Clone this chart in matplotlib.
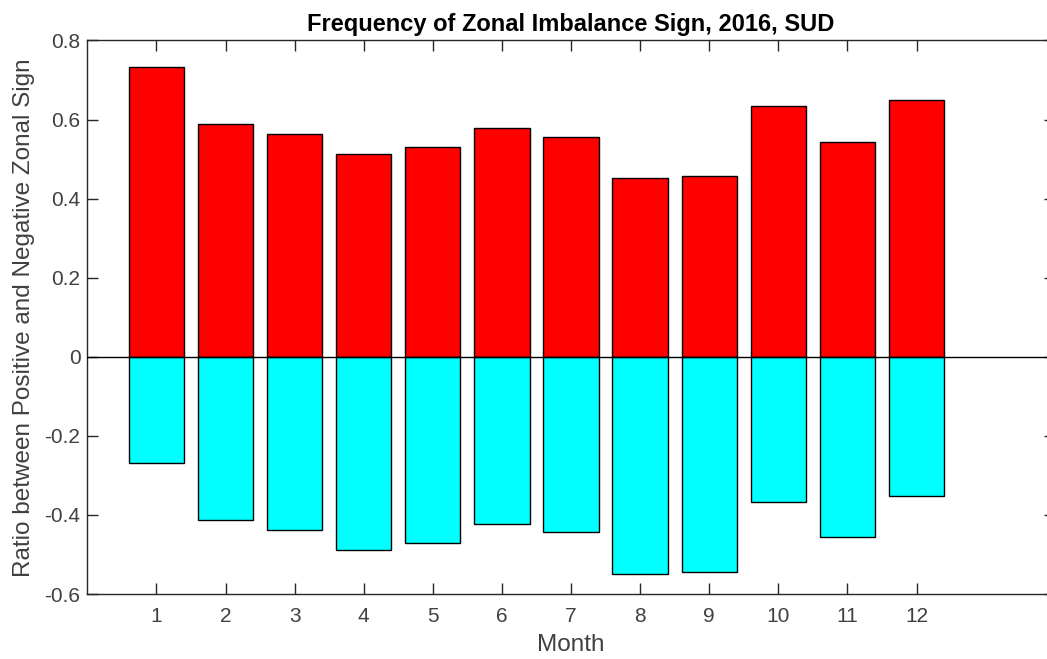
import matplotlib.pyplot as plt
from matplotlib import font_manager
import numpy as np

plt.rcParams['font.family'] = ['Liberation Sans', 'DejaVu Sans']

months = np.arange(1, 13)
positive = [0.732, 0.588, 0.563, 0.512, 0.530, 0.578, 0.557, 0.451, 0.456, 0.633, 0.543, 0.649]
negative = [-0.268, -0.412, -0.437, -0.488, -0.470, -0.422, -0.443, -0.549, -0.544, -0.367, -0.457, -0.351]
yticks = [-0.6, -0.4, -0.2, 0, 0.2, 0.4, 0.6, 0.8]
ytick_labels = ['-0.6', '-0.4', '-0.2', '0', '0.2', '0.4', '0.6', '0.8']

axis_color = '#262626'
text_color = '#404040'

# pick the regular-width bold face (matplotlib tends to grab the Narrow one)
bold_file = None
for f in font_manager.fontManager.ttflist:
    if f.name == 'Liberation Sans' and f.weight in (700, 'bold') and f.style == 'normal' \
            and 'Narrow' not in f.fname:
        bold_file = f.fname
        break
if bold_file:
    title_font = font_manager.FontProperties(fname=bold_file, size=17)
else:
    title_font = font_manager.FontProperties(family='DejaVu Sans', weight='bold', size=16)

fig = plt.figure(figsize=(10.47, 6.59), dpi=100)
ax = fig.add_axes([0.0834, 0.0986, 0.924, 0.840])

ax.bar(months, positive, width=0.8, color='#ff0000', edgecolor='black', linewidth=1.0, zorder=2)
ax.bar(months, negative, width=0.8, color='#00ffff', edgecolor='black', linewidth=1.0, zorder=2)
ax.axhline(0, color='black', linewidth=1.0, zorder=3)

ax.set_xlim(0, 14)
ax.set_ylim(-0.6, 0.8)
ax.set_xticks(months)
ax.set_xticklabels([str(m) for m in months])
ax.set_yticks(yticks)
ax.set_yticklabels(ytick_labels)

ax.tick_params(direction='in', length=8, width=1.0, color=axis_color,
               labelcolor=text_color, labelsize=15, top=True, right=True)
ax.tick_params(axis='y', pad=5)
ax.tick_params(axis='x', pad=9)
for s in ax.spines.values():
    s.set_color(axis_color)
    s.set_linewidth(1.0)

ax.set_title('Frequency of Zonal Imbalance Sign, 2016, SUD', fontproperties=title_font,
             color='black', pad=7)
ax.set_xlabel('Month', fontsize=17.5, color=text_color, labelpad=6)
ax.set_ylabel('Ratio between Positive and Negative Zonal Sign', fontsize=17.5,
              color=text_color, labelpad=7)

fig.savefig('out.png', dpi=100)
